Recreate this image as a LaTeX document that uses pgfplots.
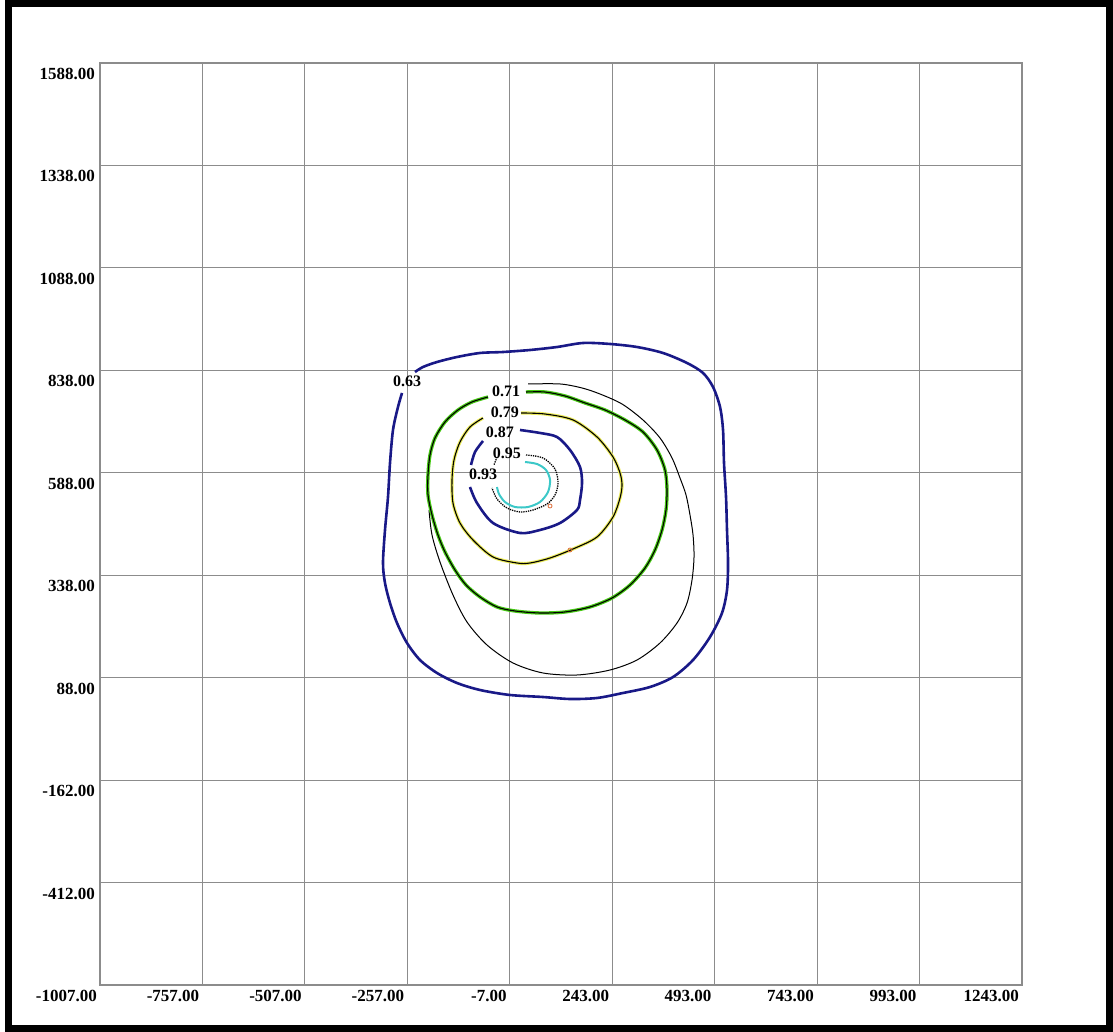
\documentclass[border=0pt]{standalone}
\usepackage{pgfplots}
\pgfplotsset{compat=1.18}
\usepackage{fontspec}
\setmainfont{Liberation Serif}
\definecolor{navyc}{RGB}{25,25,135}
\definecolor{greenc}{RGB}{70,200,20}
\definecolor{yellowc}{RGB}{235,235,90}
\definecolor{cyanc}{RGB}{60,200,200}
\definecolor{gridc}{RGB}{140,140,140}
\definecolor{orangec}{RGB}{220,110,60}
\begin{document}
\begin{tikzpicture}[x=1pt,y=1pt]
\path[use as bounding box] (0,0) rectangle (1113,1032);
\draw[line width=7pt, black] (8,3.5) rectangle (1109.5,1028.5);
\begin{axis}[
  at={(100pt,47pt)}, anchor=south west,
  scale only axis, width=922pt, height=922pt,
  xmin=-1007, xmax=1243, ymin=-662, ymax=1588,
  enlargelimits=false,
  xtick={-1007,-757,-507,-257,-7,243,493,743,993,1243},
  xticklabels={-1007.00,-757.00,-507.00,-257.00,-7.00,243.00,493.00,743.00,993.00,1243.00},
  ytick={-412,-162,88,338,588,838,1088,1338,1588},
  yticklabels={-412.00,-162.00,88.00,338.00,588.00,838.00,1088.00,1338.00,1588.00},
  grid=major,
  grid style={draw=gridc, line width=1.1pt},
  axis line style={draw=gridc, line width=1.1pt},
  major tick length=0pt,
  tick style={draw=none},
  tick label style={font=\fontsize{17}{17}\selectfont\bfseries},
  xticklabel style={anchor=north east, inner sep=0pt, xshift=-3pt, yshift=-5pt},
  yticklabel style={anchor=north east, inner sep=0pt, xshift=-5pt, yshift=-5pt},
  clip=false,
]
% 0.63 contour
\addplot[navyc, line width=2.6pt, smooth, tension=0.5] coordinates {
(-238.3,833.9) (-218.8,846.1) (-184.6,858.3) (-135.8,870.5) (-79.7,880.3) (-23.6,882.7)
(42.4,887.6) (108.3,894.9) (171.7,904.7) (237.6,902.3) (303.5,894.9) (366.9,880.3)
(425.5,855.9) (464.6,831.5) (489.0,797.3) (506.1,748.5) (513.4,692.4) (515.8,611.9)
(520.7,528.9) (523.1,448.4) (525.6,367.8) (523.1,301.9) (510.9,245.8) (481.6,187.2)
(440.2,131.1) (391.4,89.6) (335.2,65.2) (269.3,50.6) (205.9,38.4) (140.0,35.9)
(74.1,40.8) (-6.5,45.7) (-79.7,57.9) (-135.8,75.0) (-184.6,99.4) (-226.1,131.1)
(-257.8,172.6) (-282.2,221.4) (-299.3,270.2) (-311.5,319.0) (-316.4,367.8) (-311.5,448.4)
(-304.2,528.9) (-299.3,611.9) (-292.0,692.4) (-279.8,748.5) (-270.0,782.7)
};
% thin black outer curve
\addplot[black, line width=1pt, smooth, tension=0.5] coordinates {
(37.5,804.7) (115.6,804.7) (169.3,794.9) (213.2,780.2) (266.9,755.8) (318.1,716.8)
(359.6,672.9) (388.9,624.1) (408.4,575.3) (423.1,533.8) (432.8,485.0) (440.2,436.2)
(442.6,382.5) (437.7,326.3) (425.5,270.2) (401.1,221.4) (359.6,172.6) (303.5,131.1)
(237.6,106.7) (157.1,94.5) (74.1,99.4) (0.9,123.8) (-62.6,167.7) (-111.4,223.8)
(-145.6,289.7) (-177.3,370.3) (-196.8,436.2) (-204.1,497.2)
};
% 0.71 contour (green + black)
\addplot[greenc, line width=3.4pt, smooth, tension=0.5] coordinates {
(32.6,785.1) (79.0,785.1) (127.8,775.4) (176.6,758.3) (225.4,741.2) (274.2,716.8)
(318.1,687.5) (352.3,643.6) (371.8,594.8) (376.7,546.0) (374.3,497.2) (364.5,448.4)
(347.4,399.6) (323.0,355.6) (286.4,314.1) (242.5,282.4) (188.8,260.5) (127.8,248.3)
(66.8,245.8) (5.7,250.7) (-38.2,260.5) (-79.7,284.9) (-113.8,314.1) (-140.7,350.7)
(-165.1,394.7) (-182.2,436.2) (-196.8,485.0) (-206.6,533.8) (-206.6,582.6) (-201.7,631.4)
(-189.5,672.9) (-165.1,711.9) (-133.4,741.2) (-99.2,760.7) (-60.1,772.9)
};
\addplot[black, line width=1.1pt, smooth, tension=0.5] coordinates {
(32.6,785.1) (79.0,785.1) (127.8,775.4) (176.6,758.3) (225.4,741.2) (274.2,716.8)
(318.1,687.5) (352.3,643.6) (371.8,594.8) (376.7,546.0) (374.3,497.2) (364.5,448.4)
(347.4,399.6) (323.0,355.6) (286.4,314.1) (242.5,282.4) (188.8,260.5) (127.8,248.3)
(66.8,245.8) (5.7,250.7) (-38.2,260.5) (-79.7,284.9) (-113.8,314.1) (-140.7,350.7)
(-165.1,394.7) (-182.2,436.2) (-196.8,485.0) (-206.6,533.8) (-206.6,582.6) (-201.7,631.4)
(-189.5,672.9) (-165.1,711.9) (-133.4,741.2) (-99.2,760.7) (-60.1,772.9)
};
% 0.79 contour (yellow + black)
\addplot[yellowc, line width=3.2pt, smooth, tension=0.5] coordinates {
(20.4,733.9) (79.0,731.4) (147.3,716.8) (205.9,675.3) (244.9,626.5) (262.0,587.5)
(266.9,558.2) (262.0,526.5) (244.9,480.1) (205.9,431.3) (147.3,402.0) (91.2,380.0)
(42.4,367.8) (10.6,367.8) (-47.9,382.5) (-96.8,424.0) (-128.5,465.4) (-145.6,514.2)
(-148.0,570.4) (-143.1,619.2) (-128.5,663.1) (-104.1,699.7) (-72.3,721.7)
};
\addplot[black, line width=1.1pt, smooth, tension=0.5] coordinates {
(20.4,733.9) (79.0,731.4) (147.3,716.8) (205.9,675.3) (244.9,626.5) (262.0,587.5)
(266.9,558.2) (262.0,526.5) (244.9,480.1) (205.9,431.3) (147.3,402.0) (91.2,380.0)
(42.4,367.8) (10.6,367.8) (-47.9,382.5) (-96.8,424.0) (-128.5,465.4) (-145.6,514.2)
(-148.0,570.4) (-143.1,619.2) (-128.5,663.1) (-104.1,699.7) (-72.3,721.7)
};
% 0.87 contour (navy)
\addplot[navyc, line width=2.6pt, smooth, tension=0.5] coordinates {
(18.0,692.4) (66.8,685.1) (108.3,675.3) (140.0,643.6) (164.4,602.1) (169.3,563.1)
(164.4,521.6) (157.1,497.2) (115.6,465.4) (66.8,448.4) (18.0,441.0) (-47.9,465.4)
(-87.0,514.2) (-104.1,553.3)
};
\addplot[navyc, line width=2.6pt, smooth, tension=0.5] coordinates {
(-101.6,607.0) (-91.9,638.7) (-72.3,665.6)
};
% dotted black
\addplot[black, line width=1.3pt, densely dotted, smooth, tension=0.5] coordinates {
(32.6,631.4) (74.1,624.1) (103.4,597.2) (110.7,563.1) (103.4,533.8) (83.9,511.8)
(49.7,497.2) (18.0,492.3) (-13.8,502.0) (-38.2,524.0) (-50.4,550.9)
};
\addplot[black, line width=1.3pt, densely dotted] coordinates {
(-38.2,626.5) (-45.5,607.0)
};
% cyan innermost
\addplot[cyanc, line width=2pt, smooth, tension=0.5] coordinates {
(30.2,614.3) (59.5,609.4) (81.4,594.8) (91.2,570.4) (86.3,541.1) (66.8,516.7)
(37.5,504.5) (5.7,504.5) (-18.7,516.7) (-33.3,536.2) (-38.2,553.3)
};
% small markers
\addplot[only marks, mark=o, mark size=2pt, orangec, line width=0.8pt] coordinates {
(91.2,506.9) (140.0,399.6)
};
% labels
\begin{scope}[every node/.style={font=\fontsize{16}{16}\selectfont\bfseries, inner sep=0pt}]
\node at (axis cs:-257.8,812) {0.63};
\node at (axis cs:-16.2,787.6) {0.71};
\node at (axis cs:-18.7,736.3) {0.79};
\node at (axis cs:-30.9,687.5) {0.87};
\node at (axis cs:-13.8,636.3) {0.95};
\node at (axis cs:-72.3,585.0) {0.93};
\end{scope}
\end{axis}
\end{tikzpicture}
\end{document}
